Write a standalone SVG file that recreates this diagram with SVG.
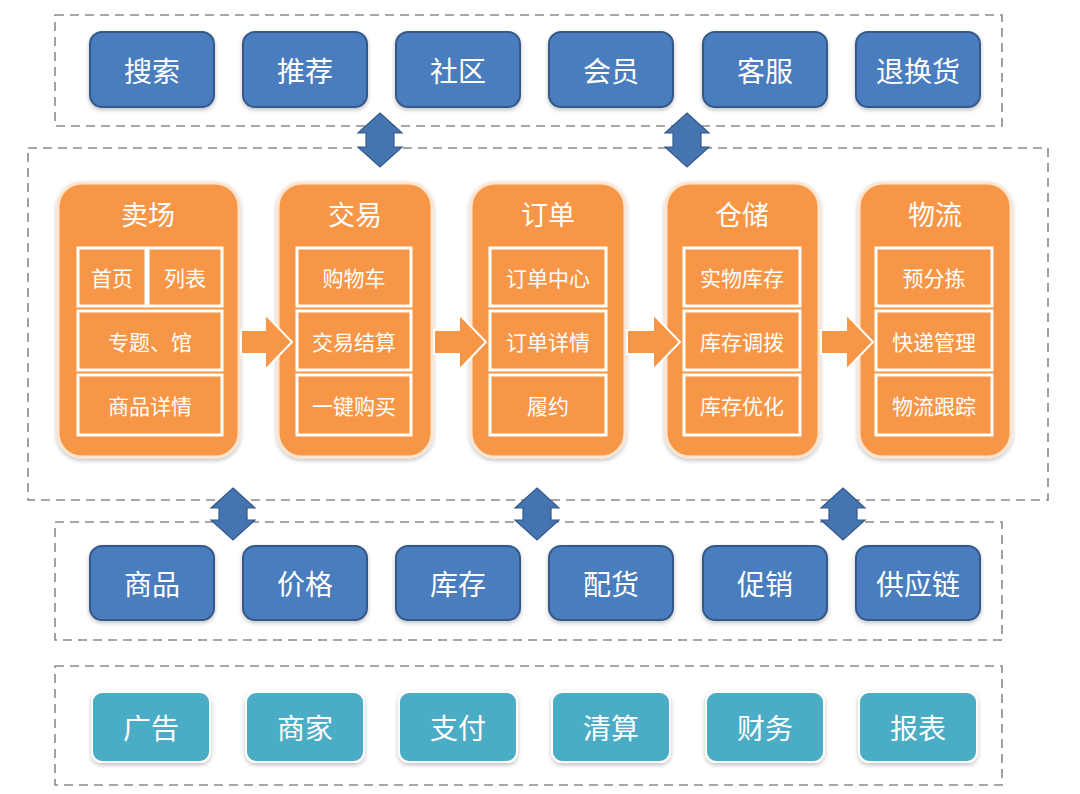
<svg xmlns="http://www.w3.org/2000/svg" width="1080" height="794" viewBox="0 0 1080 794">
<defs>
<style>
.dash{fill:#ffffff;stroke:#8a8a8a;stroke-width:1.6;stroke-dasharray:9 6}
.blue rect{fill:#4A7DBE;stroke:#34598A;stroke-width:2}
.teal rect{fill:#4BACC6;stroke:#ffffff;stroke-width:2}
.col{fill:#F79646;stroke:#FCE4CF;stroke-width:3}
.cell{fill:#F79646;stroke:#ffffff;stroke-width:3}
.t{font-family:"Noto Sans CJK SC","Noto Sans",sans-serif;fill:#ffffff;text-anchor:middle;dominant-baseline:central}
.big{font-size:28px}
.title{font-size:27px}
.small{font-size:21px}
.darr{fill:#4575B0;stroke:#34598A;stroke-width:1.2}
.rarr{fill:#F79646;stroke:#ffffff;stroke-width:2}
</style>
<filter id="sh" x="-10%" y="-10%" width="120%" height="130%">
<feDropShadow dx="0" dy="2" stdDeviation="2" flood-color="#000" flood-opacity="0.25"/>
</filter>
</defs>
<rect width="1080" height="794" fill="#ffffff"/>
<g id="containers">
<rect class="dash" x="55" y="15" width="947" height="111"/>
<rect class="dash" x="28" y="148" width="1020" height="352"/>
<rect class="dash" x="55" y="522" width="947" height="118"/>
<rect class="dash" x="55" y="666" width="947" height="119"/>
</g>
<g id="top-row" class="blue">
<g id="n-search"><rect x="90" y="32" width="124" height="75" rx="12" filter="url(#sh)"/><text class="t big" x="152" y="70">搜索</text></g>
<g id="n-recommend"><rect x="243" y="32" width="124" height="75" rx="12" filter="url(#sh)"/><text class="t big" x="305" y="70">推荐</text></g>
<g id="n-community"><rect x="396" y="32" width="124" height="75" rx="12" filter="url(#sh)"/><text class="t big" x="458" y="70">社区</text></g>
<g id="n-member"><rect x="549" y="32" width="124" height="75" rx="12" filter="url(#sh)"/><text class="t big" x="611" y="70">会员</text></g>
<g id="n-service"><rect x="703" y="32" width="124" height="75" rx="12" filter="url(#sh)"/><text class="t big" x="765" y="70">客服</text></g>
<g id="n-return"><rect x="856" y="32" width="124" height="75" rx="12" filter="url(#sh)"/><text class="t big" x="918" y="70">退换货</text></g>
</g>
<g id="col-mall">
<rect class="col" x="58" y="183" width="181" height="274" rx="24" filter="url(#sh)"/>
<text class="t title" x="148" y="213">卖场</text>
<rect class="cell" x="78" y="248" width="68" height="58"/>
<rect class="cell" x="148" y="248" width="74" height="58"/>
<rect class="cell" x="78" y="311" width="144" height="59"/>
<rect class="cell" x="78" y="375" width="144" height="60"/>
<text class="t small" x="112" y="277">首页</text>
<text class="t small" x="185" y="277">列表</text>
<text class="t small" x="150" y="341">专题、馆</text>
<text class="t small" x="150" y="405">商品详情</text>
</g>
<g id="col-trade">
<rect class="col" x="278" y="183" width="154" height="274" rx="24" filter="url(#sh)"/>
<text class="t title" x="355" y="213">交易</text>
<rect class="cell" x="297" y="248" width="114" height="58"/>
<rect class="cell" x="297" y="311" width="114" height="59"/>
<rect class="cell" x="297" y="375" width="114" height="60"/>
<text class="t small" x="354" y="277">购物车</text>
<text class="t small" x="354" y="341">交易结算</text>
<text class="t small" x="354" y="405">一键购买</text>
</g>
<g id="col-order">
<rect class="col" x="471" y="183" width="154" height="274" rx="24" filter="url(#sh)"/>
<text class="t title" x="548" y="213">订单</text>
<rect class="cell" x="490" y="248" width="116" height="58"/>
<rect class="cell" x="490" y="311" width="116" height="59"/>
<rect class="cell" x="490" y="375" width="116" height="60"/>
<text class="t small" x="548" y="277">订单中心</text>
<text class="t small" x="548" y="341">订单详情</text>
<text class="t small" x="548" y="405">履约</text>
</g>
<g id="col-storage">
<rect class="col" x="666" y="183" width="153" height="274" rx="24" filter="url(#sh)"/>
<text class="t title" x="742" y="213">仓储</text>
<rect class="cell" x="684" y="248" width="116" height="58"/>
<rect class="cell" x="684" y="311" width="116" height="59"/>
<rect class="cell" x="684" y="375" width="116" height="60"/>
<text class="t small" x="742" y="277">实物库存</text>
<text class="t small" x="742" y="341">库存调拨</text>
<text class="t small" x="742" y="405">库存优化</text>
</g>
<g id="col-logistics">
<rect class="col" x="859" y="183" width="152" height="274" rx="24" filter="url(#sh)"/>
<text class="t title" x="935" y="213">物流</text>
<rect class="cell" x="876" y="248" width="116" height="58"/>
<rect class="cell" x="876" y="311" width="116" height="59"/>
<rect class="cell" x="876" y="375" width="116" height="60"/>
<text class="t small" x="934" y="277">预分拣</text>
<text class="t small" x="934" y="341">快递管理</text>
<text class="t small" x="934" y="405">物流跟踪</text>
</g>
<g id="bottom-row" class="blue">
<g id="n-goods"><rect x="90" y="546" width="124" height="74" rx="12" filter="url(#sh)"/><text class="t big" x="152" y="583">商品</text></g>
<g id="n-price"><rect x="243" y="546" width="124" height="74" rx="12" filter="url(#sh)"/><text class="t big" x="305" y="583">价格</text></g>
<g id="n-stock"><rect x="396" y="546" width="124" height="74" rx="12" filter="url(#sh)"/><text class="t big" x="458" y="583">库存</text></g>
<g id="n-dist"><rect x="549" y="546" width="124" height="74" rx="12" filter="url(#sh)"/><text class="t big" x="611" y="583">配货</text></g>
<g id="n-promo"><rect x="703" y="546" width="124" height="74" rx="12" filter="url(#sh)"/><text class="t big" x="765" y="583">促销</text></g>
<g id="n-supply"><rect x="856" y="546" width="124" height="74" rx="12" filter="url(#sh)"/><text class="t big" x="918" y="583">供应链</text></g>
</g>
<g id="base-row" class="teal">
<g id="n-ads"><rect x="92" y="692" width="118" height="70" rx="10" filter="url(#sh)"/><text class="t big" x="151" y="727">广告</text></g>
<g id="n-merchant"><rect x="246" y="692" width="118" height="70" rx="10" filter="url(#sh)"/><text class="t big" x="305" y="727">商家</text></g>
<g id="n-pay"><rect x="399" y="692" width="118" height="70" rx="10" filter="url(#sh)"/><text class="t big" x="458" y="727">支付</text></g>
<g id="n-settle"><rect x="552" y="692" width="118" height="70" rx="10" filter="url(#sh)"/><text class="t big" x="611" y="727">清算</text></g>
<g id="n-finance"><rect x="706" y="692" width="118" height="70" rx="10" filter="url(#sh)"/><text class="t big" x="765" y="727">财务</text></g>
<g id="n-report"><rect x="859" y="692" width="118" height="70" rx="10" filter="url(#sh)"/><text class="t big" x="918" y="727">报表</text></g>
</g>
<g id="connectors">
<path class="darr" d="M380,113 L402,133 L394,133 L394,147 L402,147 L380,167 L358,147 L366,147 L366,133 L358,133 Z"/>
<path class="darr" d="M687,113 L709,133 L701,133 L701,147 L709,147 L687,167 L665,147 L673,147 L673,133 L665,133 Z"/>
<path class="darr" d="M233,488 L255,508 L247,508 L247,520 L255,520 L233,540 L211,520 L219,520 L219,508 L211,508 Z"/>
<path class="darr" d="M537,488 L559,508 L551,508 L551,520 L559,520 L537,540 L515,520 L523,520 L523,508 L515,508 Z"/>
<path class="darr" d="M843,488 L865,508 L857,508 L857,520 L865,520 L843,540 L821,520 L829,520 L829,508 L821,508 Z"/>
<path class="rarr" d="M241,330 L265,330 L265,314 L292,342 L265,370 L265,354 L241,354 Z"/>
<path class="rarr" d="M434,330 L459,330 L459,314 L486,342 L459,370 L459,354 L434,354 Z"/>
<path class="rarr" d="M627,330 L653,330 L653,314 L680,342 L653,370 L653,354 L627,354 Z"/>
<path class="rarr" d="M821,330 L846,330 L846,314 L873,342 L846,370 L846,354 L821,354 Z"/>
</g>
</svg>
